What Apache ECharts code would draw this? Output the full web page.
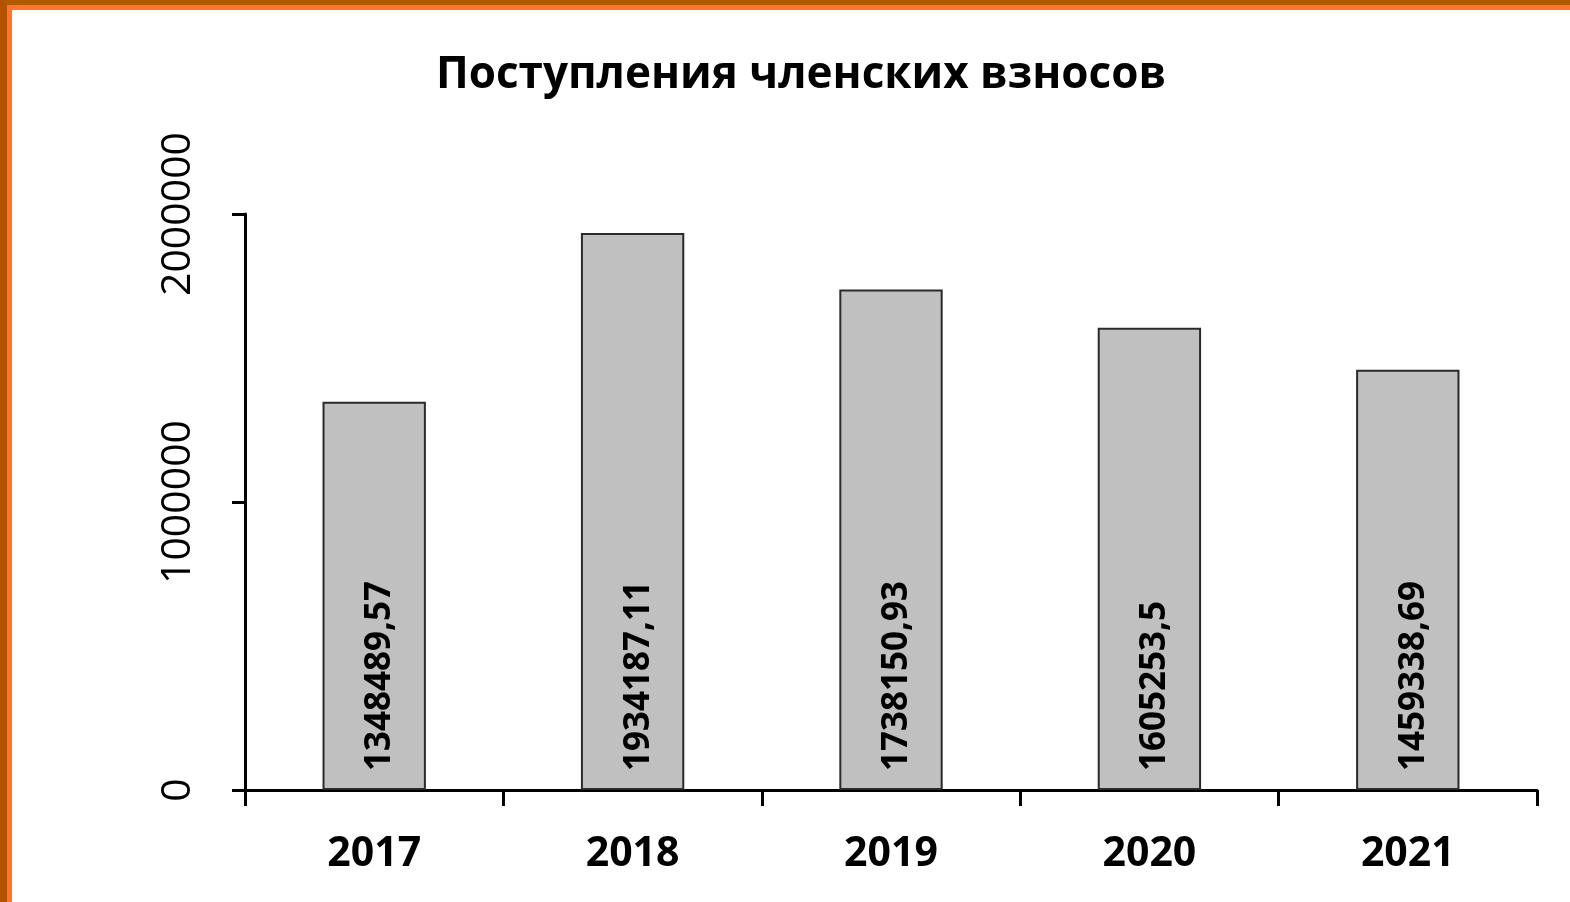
<!DOCTYPE html>
<html>
<head>
<meta charset="utf-8">
<script src="https://cdn.jsdelivr.net/npm/echarts@6/dist/echarts.min.js"></script>
<style>
html,body{margin:0;padding:0;background:#fff;}
#c{width:1570px;height:902px;}
</style>
</head>
<body>
<div id="c"></div>
<script>
var titleText = 'Поступления членских взносов';
var categories = ['2017', '2018', '2019', '2020', '2021'];
var values = [1348489.57, 1934187.11, 1738150.93, 1605253.5, 1459338.69];
var yTicks = [0, 1000000, 2000000];

var chart = echarts.init(document.getElementById('c'));
chart.setOption({
  backgroundColor: '#ffffff',
  animation: false,
  title: {
    text: titleText,
    left: 796,
    textAlign: 'center',
    top: 48,
    textStyle: {fontFamily: 'Open Sans', fontWeight: 'bold', fontSize: 44, color: '#000'}
  },
  graphic: [
    {type: 'rect', shape: {x: 0, y: 0, width: 1570, height: 5}, style: {fill: '#B35A00'}, silent: true},
    {type: 'rect', shape: {x: 0, y: 5, width: 1570, height: 5}, style: {fill: '#FF7530'}, silent: true},
    {type: 'rect', shape: {x: 0, y: 0, width: 7, height: 902}, style: {fill: '#B35200'}, silent: true},
    {type: 'rect', shape: {x: 7, y: 5, width: 5, height: 897}, style: {fill: '#FF7530'}, silent: true}
  ],
  grid: {left: 245, right: 33, top: 214, bottom: 112, containLabel: false},
  xAxis: {
    type: 'category',
    data: categories,
    axisLine: {show: true, lineStyle: {color: '#000', width: 3}},
    axisTick: {show: true, alignWithLabel: false, length: 16, lineStyle: {color: '#000', width: 3}},
    axisLabel: {margin: 44, fontFamily: 'Open Sans', fontWeight: 'bold', fontSize: 41, color: '#000'},
    splitLine: {show: false}
  },
  yAxis: {
    type: 'value',
    min: 0,
    max: 2000000,
    interval: 1000000,
    axisLine: {show: true, lineStyle: {color: '#000', width: 3}},
    axisTick: {show: true, length: 13, lineStyle: {color: '#000', width: 3}},
    axisLabel: {rotate: 90, margin: 46, fontFamily: 'Open Sans', fontSize: 41, color: '#000',
      formatter: function (v) { return yTicks.indexOf(v) >= 0 ? String(v) : ''; }},
    splitLine: {show: false}
  },
  series: [{
    type: 'bar',
    data: values,
    barWidth: '40%',
    itemStyle: {color: '#C0C0C0', borderColor: '#2a2a2a', borderWidth: 2},
    label: {
      show: true,
      position: 'insideBottom',
      rotate: 90,
      align: 'left',
      verticalAlign: 'middle',
      distance: 19,
      offset: [0, 6],
      fontFamily: 'Open Sans',
      fontWeight: 'bold',
      fontSize: 35,
      color: '#000',
      formatter: function (p) { return String(p.value).replace('.', ','); }
    }
  }]
});
</script>
</body>
</html>
